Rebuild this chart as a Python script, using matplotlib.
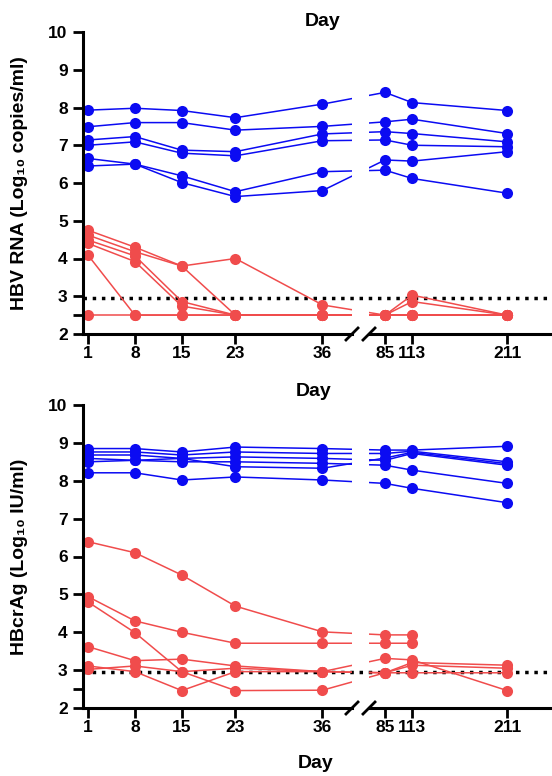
import numpy as np
import matplotlib
matplotlib.use("Agg")
import matplotlib.pyplot as plt

# dias de muestreo
dias = [1, 8, 15, 23, 36, 85, 113, 211]
ticks_izq = [1, 8, 15, 23, 36]
ticks_der = [85, 113, 211]
lloq = 2.95
nan = np.nan

# HBV RNA (Log10 copies/ml)
rna_azul = [
    [7.93, 7.98, 7.92, 7.73, 8.09, 8.40, 8.13, 7.92],
    [7.49, 7.60, 7.60, 7.40, 7.50, 7.62, 7.69, 7.31],
    [7.14, 7.23, 6.87, 6.83, 7.30, 7.36, 7.31, 7.09],
    [7.00, 7.09, 6.79, 6.72, 7.12, 7.14, 7.00, 6.96],
    [6.65, 6.50, 6.19, 5.77, 6.30, 6.34, 6.12, 5.73],
    [6.45, 6.50, 6.01, 5.64, 5.80, 6.61, 6.58, 6.83],
]
rna_rojo = [
    [4.75, 4.30, 3.80, 4.00, 2.77, 2.50, 3.03, 2.50],
    [4.62, 4.18, 3.80, 2.50, 2.50, 2.50, 2.86, 2.50],
    [4.49, 4.07, 2.86, 2.50, 2.50, 2.50, 2.50, 2.50],
    [4.40, 3.92, 2.74, 2.50, 2.50, 2.50, 2.50, 2.50],
    [4.09, 2.50, 2.50, 2.50, 2.50, 2.50, 2.50, 2.50],
    [2.50, 2.50, 2.50, 2.50, 2.50, 2.50, 2.50, 2.50],
]

# HBcrAg (Log10 IU/ml)
crag_azul = [
    [8.85, 8.85, 8.76, 8.89, 8.85, 8.81, 8.81, 8.91],
    [8.76, 8.76, 8.68, 8.76, 8.72, 8.72, 8.78, 8.50],
    [8.68, 8.68, 8.59, 8.63, 8.59, 8.54, 8.72, 8.41],
    [8.59, 8.54, 8.50, 8.50, 8.46, 8.41, 8.28, 7.93],
    [8.50, 8.54, 8.59, 8.37, 8.33, 8.60, 8.75, 8.45],
    [8.21, 8.21, 8.02, 8.10, 8.02, 7.93, 7.80, 7.42],
]
crag_rojo = [
    [6.39, 6.10, 5.51, 4.69, 4.01, 3.93, 3.93, nan],
    [4.94, 4.30, 4.00, 3.71, 3.71, 3.71, 3.71, nan],
    [4.80, 3.99, 2.96, 2.46, 2.47, 2.93, 3.13, 3.05],
    [3.62, 3.25, 3.29, 3.11, 2.96, 3.31, 3.27, 2.46],
    [3.11, 2.96, 2.46, 2.96, 2.96, 2.93, 2.93, 2.93],
    [3.02, 3.11, 2.96, 3.05, 2.96, 2.93, 3.20, 3.13],
]

azul = "#0b0bf2"
rojo = "#f04c4c"

plt.rcParams["font.family"] = ["Liberation Sans", "DejaVu Sans"]
plt.rcParams["font.weight"] = "bold"

# escala del eje x: tramo corto (dias 1-36) y tramo largo (85-211)
dias_nodo = [-40, 36, 85, 400]
pos_nodo = [88 - 41 * 6.7, 322.5, 385, 385 + 315 * 0.97]


def adelante(x):
    return np.interp(x, dias_nodo, pos_nodo)


def atras(p):
    return np.interp(p, pos_nodo, dias_nodo)


fig = plt.figure(figsize=(5.52, 7.76), dpi=100)
W, H = 552, 776


def caja(x0, x1, y_top, y_bot):
    return [x0 / W, (H - y_bot) / H, (x1 - x0) / W, (y_bot - y_top) / H]


def panel(y_top, y_bot, azules, rojos, etiqueta):
    ax1 = fig.add_axes(caja(83, 352, y_top, y_bot))
    ax2 = fig.add_axes(caja(369, 550, y_top, y_bot))
    for ax in (ax1, ax2):
        ax.patch.set_visible(False)
        ax.set_xscale("function", functions=(adelante, atras))
        ax.set_ylim(2, 10)
        for serie in rojos:
            ax.plot(dias, serie, "-o", color=rojo, lw=1.1, ms=8, mew=0)
        for serie in azules:
            ax.plot(dias, serie, "-o", color=azul, lw=1.1, ms=8, mew=0)
        ax.spines["top"].set_visible(False)
        ax.spines["right"].set_visible(False)
        ax.spines["bottom"].set_linewidth(2.2)
        ax.spines["left"].set_linewidth(2.2)
        ax.tick_params(axis="x", length=7, width=2, labelsize=12.5, pad=2)
        ax.tick_params(axis="y", length=7, width=2, labelsize=12.5, pad=4)
    ax1.set_xlim(atras(83), atras(352))
    ax2.set_xlim(atras(369), atras(550))
    ax1.set_xticks(ticks_izq)
    ax1.set_xticklabels([str(d) for d in ticks_izq])
    ax2.set_xticks(ticks_der)
    ax2.set_xticklabels([str(d) for d in ticks_der])
    ax1.minorticks_off()
    ax2.minorticks_off()
    ax1.set_yticks([2, 2.5, 3, 4, 5, 6, 7, 8, 9, 10])
    ax1.set_yticklabels(["2", "", "3", "4", "5", "6", "7", "8", "9", "10"])
    ax2.spines["left"].set_visible(False)
    ax2.set_yticks([])

    # linea punteada del limite de cuantificacion
    ax1.axhline(lloq, xmin=0, xmax=(550 - 83) / (352 - 83), color="black",
                ls=":", lw=2.5, clip_on=False, zorder=1)

    # marcas de corte del eje
    dx1, dy = 6 / (352 - 83), 6 / (y_bot - y_top)
    ax1.plot([1 - dx1, 1 + dx1], [-dy, dy], transform=ax1.transAxes,
             color="black", lw=2, clip_on=False)
    dx2 = 6 / (550 - 369)
    ax2.plot([-dx2, dx2], [-dy, dy], transform=ax2.transAxes,
             color="black", lw=2, clip_on=False)

    fig.text(20 / W, 1 - (y_top + y_bot) / 2 / H, etiqueta, rotation=90,
             ha="center", va="center", fontsize=14, fontweight="bold")
    return ax1, ax2


panel(32, 334, rna_azul, rna_rojo, "HBV RNA (Log\u2081\u2080 copies/ml)")
panel(405, 708, crag_azul, crag_rojo, "HBcrAg (Log\u2081\u2080 IU/ml)")

fig.text(323 / W, 1 - 22 / H, "Day", ha="center", va="center",
         fontsize=14, fontweight="bold")
fig.text(314 / W, 1 - 391 / H, "Day", ha="center", va="center",
         fontsize=14, fontweight="bold")
fig.text(316 / W, 1 - 763 / H, "Day", ha="center", va="center",
         fontsize=14, fontweight="bold")

fig.savefig("out.png", dpi=100)
